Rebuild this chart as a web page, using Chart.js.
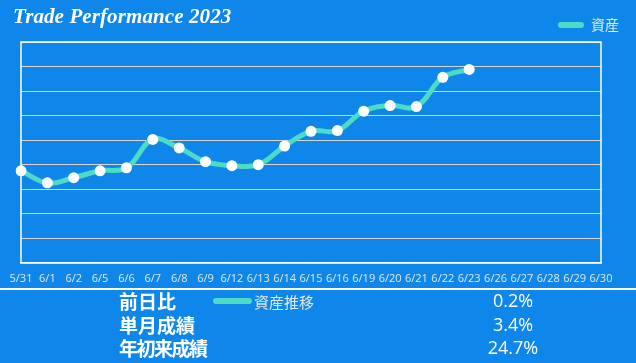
<!DOCTYPE html>
<html>
<head>
<meta charset="utf-8">
<script src="https://cdn.jsdelivr.net/npm/chart.js@4"></script>
<style>
  html, body { margin: 0; padding: 0; }
  body { width: 636px; height: 363px; background: #0e86ea; position: relative; overflow: hidden; font-family: "Noto Sans CJK JP", "Open Sans", sans-serif; }
  #wrap { position: absolute; left: 0; top: 0; width: 636px; height: 294px; }
  #title { position: absolute; left: 13px; top: 4px; color: #fff; font: italic bold 21px "Liberation Serif", serif; white-space: nowrap; letter-spacing: 0.1px; }
  #rule { position: absolute; left: 0; top: 288px; width: 636px; height: 2px; background: #fff; }
  .lbl { position: absolute; left: 119px; color: #fff; font-weight: bold; font-size: 19px; line-height: 23px; font-family: "Noto Sans CJK JP", sans-serif; white-space: nowrap; }
  .val { position: absolute; left: 462px; width: 102px; text-align: center; color: #fff; font-size: 18px; line-height: 23px; font-family: "Open Sans", sans-serif; }
  #leg2 { position: absolute; left: 213px; top: 290px; height: 22px; display: flex; align-items: center; color: #e4e8ee; font-size: 15px; font-family: "Noto Sans CJK JP", sans-serif; }
  #leg2 .sw { width: 39px; height: 6px; border-radius: 3px; background: #4cdcc6; margin-right: 2px; }
</style>
</head>
<body>
<div id="wrap"><canvas id="c" width="636" height="294"></canvas></div>
<div id="title">Trade Performance 2023</div>
<div id="rule"></div>
<div id="leg2"><span class="sw"></span><span id="leg2text"></span></div>
<div id="rows"></div>
<script>
const labels = ["5/31","6/1","6/2","6/5","6/6","6/7","6/8","6/9","6/12","6/13","6/14","6/15","6/16","6/19","6/20","6/21","6/22","6/23","6/26","6/27","6/28","6/29","6/30"];
const assets = [37.5, 32.6, 34.7, 37.5, 38.7, 50.3, 46.8, 41.2, 39.6, 40.0, 47.6, 53.6, 53.9, 61.8, 64.1, 63.7, 75.6, 78.8];
const seriesName = "資産";
const trendName = "資産推移";
const statLabels = ["前日比", "単月成績", "年初来成績"];
const statValues = ["0.2%", "3.4%", "24.7%"];
const yMin = 0, yMax = 90, yStep = 10;

const lineColor = "#4cdcc6";

document.getElementById("leg2text").textContent = trendName;
const rows = document.getElementById("rows");
const rowTops = [289, 313, 336];
statLabels.forEach((t, i) => {
  const l = document.createElement("div");
  l.className = "lbl";
  l.style.top = rowTops[i] + "px";
  l.textContent = t;
  if (i === 2) l.style.letterSpacing = "-1.5px";
  rows.appendChild(l);
  const v = document.createElement("div");
  v.className = "val";
  v.style.top = rowTops[i] + "px";
  v.textContent = statValues[i];
  rows.appendChild(v);
});

const frame = {
  id: "frame",
  beforeDatasetsDraw(chart) {
    const a = chart.chartArea, ctx = chart.ctx;
    ctx.save();
    ctx.strokeStyle = "#ffffff";
    ctx.lineWidth = 1.5;
    ctx.strokeRect(a.left, a.top, a.right - a.left, a.bottom - a.top);
    ctx.restore();
  }
};

new Chart(document.getElementById("c"), {
  type: "line",
  data: {
    labels: labels,
    datasets: [{
      label: seriesName,
      data: assets,
      borderColor: lineColor,
      backgroundColor: lineColor,
      borderWidth: 5,
      tension: 0.4,
      pointRadius: 5.5,
      pointHoverRadius: 5.5,
      pointBackgroundColor: "#ffffff",
      pointBorderColor: "#ffffff",
      pointBorderWidth: 0,
      fill: false
    }]
  },
  options: {
    responsive: false,
    animation: false,
    layout: { padding: { left: 21, right: 5, top: 6, bottom: 0 } },
    plugins: {
      title: { display: false },
      tooltip: { enabled: false },
      legend: {
        display: true,
        position: "top",
        align: "end",
        labels: {
          color: "#e4e8ee",
          font: { size: 14, family: "'Noto Sans CJK JP', sans-serif" },
          boxWidth: 26,
          boxHeight: 6,
          padding: 12,
          useBorderRadius: true,
          borderRadius: 3,
          generateLabels: (chart) => chart.data.datasets.map((d, i) => ({
            text: d.label, fillStyle: lineColor, strokeStyle: lineColor, lineWidth: 0,
            fontColor: "#e4e8ee", datasetIndex: i, borderRadius: 3
          }))
        }
      }
    },
    scales: {
      x: {
        offset: false,
        grid: { display: false, drawTicks: false },
        border: { display: true, color: "#ffffff", width: 1.5 },
        ticks: {
          autoSkip: false, maxRotation: 0, minRotation: 0, padding: 9,
          color: "#e4e8ee",
          font: { size: 11, family: "'Open Sans', sans-serif" }
        }
      },
      y: {
        min: yMin, max: yMax,
        grid: { drawTicks: false, color: "#d9d4cc", lineWidth: 1 },
        border: { display: false },
        ticks: { display: false, stepSize: yStep }
      },
      yr: {
        position: "right",
        min: yMin, max: yMax,
        grid: { display: false, drawTicks: false },
        border: { display: false },
        ticks: { display: false },
        afterFit: (scale) => { scale.width = 30; }
      }
    }
  },
  plugins: [frame]
});
</script>
</body>
</html>
